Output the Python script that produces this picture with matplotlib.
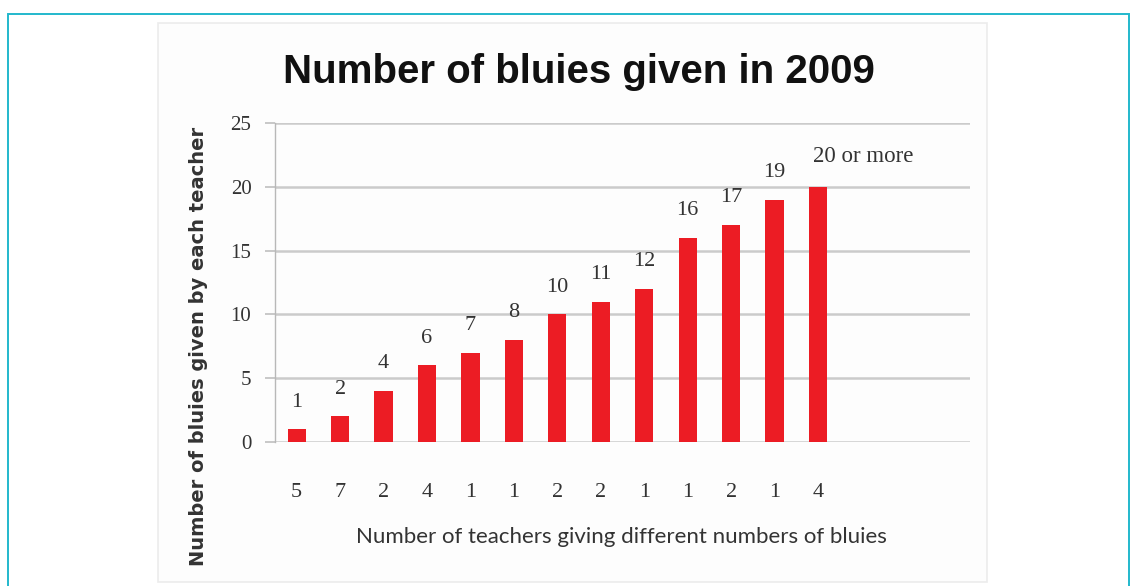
import matplotlib
matplotlib.use("Agg")
import matplotlib.pyplot as plt
from matplotlib.patches import Rectangle

# ---- data ----
bluies_per_teacher = [1, 2, 4, 6, 7, 8, 10, 11, 12, 16, 17, 19, 20]
value_labels = ["1", "2", "4", "6", "7", "8", "10", "11", "12", "16", "17", "19", "20 or more"]
teacher_counts = ["5", "7", "2", "4", "1", "1", "2", "2", "1", "1", "2", "1", "4"]
y_ticks = [0, 5, 10, 15, 20, 25]
n_slots = 16

title = "Number of bluies given in 2009"
xlabel = "Number of teachers giving different numbers of bluies"
ylabel = "Number of bluies given by each teacher"

W, H = 1131, 586
fig = plt.figure(figsize=(W / 100, H / 100), dpi=100)
fig.patch.set_facecolor("white")

def fx(px):
    return px / W

def fy(py):
    return 1 - py / H

# outer cyan frame
fig.patches.append(Rectangle((fx(8), fy(620)), fx(1129) - fx(8), fy(14) - fy(620),
                             transform=fig.transFigure, fill=False,
                             edgecolor="#22b8cc", linewidth=1.4, zorder=-2))
# inner chart panel
fig.patches.append(Rectangle((fx(158), fy(582)), fx(987) - fx(158), fy(23) - fy(582),
                             transform=fig.transFigure, facecolor="#fdfdfd",
                             edgecolor="#ececec", linewidth=1.2, zorder=-1))

ax = fig.add_axes([fx(275), fy(442), fx(970) - fx(275), fy(123) - fy(442)])
ax.set_zorder(2)
ax.set_facecolor("none")

xpos = list(range(len(bluies_per_teacher)))
bars = ax.bar(xpos, bluies_per_teacher, width=0.42, color="#ec1c24", zorder=3)

num_font = dict(family="Liberation Serif", color="#333333")

ax.set_xlim(-0.5, n_slots - 0.5)
ax.set_ylim(0, 25)
ax.set_yticks(y_ticks)
ax.set_yticklabels([str(v) for v in y_ticks], fontsize=15, **num_font)
ax.set_xticks(xpos)
ax.set_xticklabels(teacher_counts, fontsize=16, **num_font)
ax.tick_params(axis="x", length=0, pad=29.5)
ax.tick_params(axis="y", length=7, width=1.4, color="#c8c8c8", pad=10)

ax.grid(axis="y", color="#cbcbcb", linewidth=1.8, zorder=0)
for s in ["top", "right", "bottom"]:
    ax.spines[s].set_visible(False)
ax.spines["left"].set_color("#b8b8b8")
ax.spines["left"].set_linewidth(1.0)

for i, (v, lab) in enumerate(zip(bluies_per_teacher, value_labels)):
    if i == len(bluies_per_teacher) - 1:
        ax.annotate(lab, (i - 0.11, v), xytext=(0, 22), textcoords="offset points",
                    ha="left", va="center", fontsize=16.5, **num_font)
    else:
        ax.annotate(lab, (i, v), xytext=(0, 19.5), textcoords="offset points",
                    ha="center", va="center", fontsize=16, **num_font)

fig.text(fx(579), fy(72), title, ha="center", va="center",
         family="Liberation Sans", fontweight="bold", fontsize=29, color="#111111")
fig.text(fx(621), fy(537), xlabel, ha="center", va="center",
         family="Lato", fontsize=16, color="#333333")
fig.text(fx(199), fy(346), ylabel, ha="center", va="center", rotation=90,
         family="DejaVu Sans", fontweight="bold", fontsize=14, color="#333333")

fig.savefig("out.png", dpi=100, facecolor="white")
